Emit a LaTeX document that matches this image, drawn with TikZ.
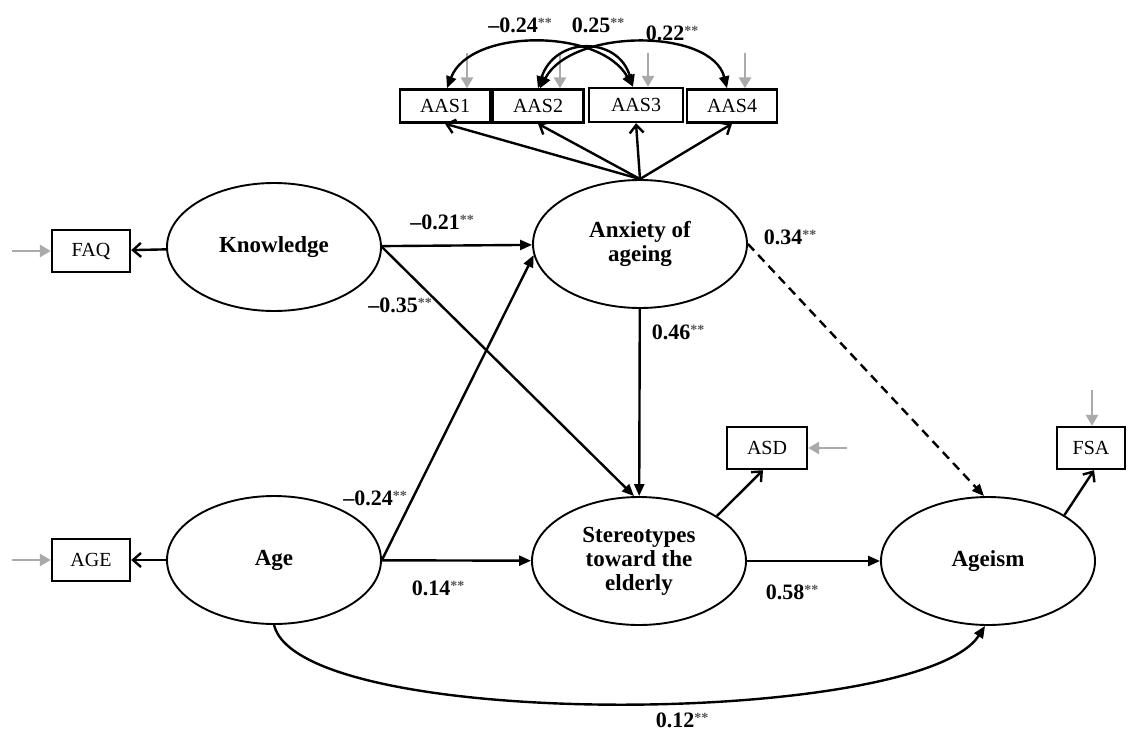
\documentclass[tikz,border=0pt]{standalone}
\usepackage{fontspec}
\setmainfont{Liberation Serif}
\usetikzlibrary{arrows.meta,shapes.geometric}
\definecolor{errgray}{RGB}{170,170,170}
\definecolor{stargray}{RGB}{85,85,85}
\newcommand\sig{\raisebox{0.5ex}{\fontsize{14}{14}\selectfont\bfseries\color{stargray}**}}
\begin{document}
\begin{tikzpicture}[x=1pt,y=-1pt,
 latent/.style={ellipse,draw,line width=1.9pt,minimum width=214pt,minimum height=128pt,inner sep=0pt,align=center,font=\fontsize{23}{24}\selectfont\bfseries},
 obs/.style={rectangle,draw,line width=2.4pt,inner sep=0pt,font=\fontsize{20}{20}\selectfont},
 regr/.style={line width=2.4pt,-{Triangle[length=12pt,width=10pt]}},
 meas/.style={line width=2.4pt,-{Straight Barb[length=8pt,width=14pt]}},
 errarr/.style={line width=2.8pt,draw=errgray,-{Triangle[length=11pt,width=12pt,fill=errgray]}},
 cov/.style={line width=2.4pt,{Triangle[length=12pt,width=10pt]}-{Triangle[length=12pt,width=10pt]}},
 coef/.style={font=\fontsize{22}{22}\selectfont\bfseries,inner sep=0pt}
]
\useasboundingbox (0,0) rectangle (1129,733);

% latent variables
\node[latent] (K) at (274,247) {Knowledge};
\node[latent] (A) at (640,244) {Anxiety of\\ageing};
\node[latent] (Ag) at (274,560) {Age};
\node[latent] (S) at (639,561) {Stereotypes\\toward the\\elderly};
\node[latent] (G) at (988,561) {Ageism};

% observed variables
\node[obs,minimum width=78pt,minimum height=42pt] (FAQ) at (91,251) {FAQ};
\node[obs,minimum width=78pt,minimum height=42pt] (AGE) at (91,560) {AGE};
\node[obs,minimum width=90pt,minimum height=33pt] (AAS1) at (445,106) {AAS1};
\node[obs,minimum width=91pt,minimum height=33pt] (AAS2) at (538,106) {AAS2};
\node[obs,minimum width=94pt,minimum height=34pt] (AAS3) at (636,105) {AAS3};
\node[obs,minimum width=90pt,minimum height=33pt] (AAS4) at (732,106) {AAS4};
\node[obs,minimum width=80pt,minimum height=42pt] (ASD) at (767,448) {ASD};
\node[obs,minimum width=68pt,minimum height=42pt] (FSA) at (1091,448) {FSA};

% error arrows
\coordinate (eF) at (12,251);
\coordinate (eA) at (12,560);
\coordinate (eD) at (847,448);
\coordinate (eS) at (1092,390);
\coordinate (e1) at (467,53);
\coordinate (e2) at (560,53);
\coordinate (e3) at (648,53);
\coordinate (e4) at (745,53);
\draw[errarr] (eF) -- (FAQ.west);
\draw[errarr] (eA) -- (AGE.west);
\draw[errarr] (eD) -- (ASD.east);
\draw[errarr] (eS) -- (eS |- FSA.north);
\draw[errarr] (e1) -- (e1 |- AAS1.north);
\draw[errarr] (e2) -- (e2 |- AAS2.north);
\draw[errarr] (e3) -- (e3 |- AAS3.north);
\draw[errarr] (e4) -- (e4 |- AAS4.north);

% measurement arrows
\draw[meas] (K) -- (FAQ);
\draw[meas] (Ag) -- (AGE);
\draw[meas] (A.north) -- (AAS1.south);
\draw[meas] (A.north) -- (AAS2.south);
\draw[meas] (A.north) -- (AAS3.south);
\draw[meas] (A.north) -- (AAS4.south);
\draw[meas] (S.30) -- ([xshift=-4pt]ASD.south);
\draw[meas] (G.31) -- ([xshift=3pt]FSA.south);

% covariances
\draw[cov] ([xshift=2pt]AAS1.north) .. controls (470,28) and (600,28) .. ([xshift=-3pt]AAS3.north);
\draw[cov] (AAS2.north) .. controls (555,36) and (618,36) .. ([xshift=-3pt]AAS3.north);
\draw[cov] ([xshift=2pt]AAS2.north) .. controls (572,28) and (712,28) .. ([xshift=-5pt]AAS4.north);

% structural paths
\draw[regr] (K) -- (A);
\draw[regr] (K.east) -- ([xshift=-5pt]S.north);
\draw[regr] (A) -- (S);
\draw[regr,dash pattern=on 9pt off 6pt] (A.east) -- ([xshift=-4pt]G.north);
\draw[regr] (Ag.east) -- (A.186);
\draw[regr] (Ag) -- (S);
\draw[regr] (S) -- (G);
\draw[regr] (Ag.south) .. controls (300,732) and (920,727) .. ([xshift=-3pt]G.south);

% coefficients
\node[coef] (c1) at (520,25) {–0.24\sig};
\node[coef] (c2) at (598,25) {0.25\sig};
\node[coef] (c3) at (672,33) {0.22\sig};
\node[coef] (c4) at (442,222) {–0.21\sig};
\node[coef] (c5) at (400,305) {–0.35\sig};
\node[coef] (c6) at (790,237) {0.34\sig};
\node[coef] (c7) at (678,332) {0.46\sig};
\node[coef] (c8) at (375,498) {–0.24\sig};
\node[coef] (c9) at (438,588) {0.14\sig};
\node[coef] (c10) at (792,592) {0.58\sig};
\node[coef] (c11) at (682,720) {0.12\sig};
\end{tikzpicture}
\end{document}
